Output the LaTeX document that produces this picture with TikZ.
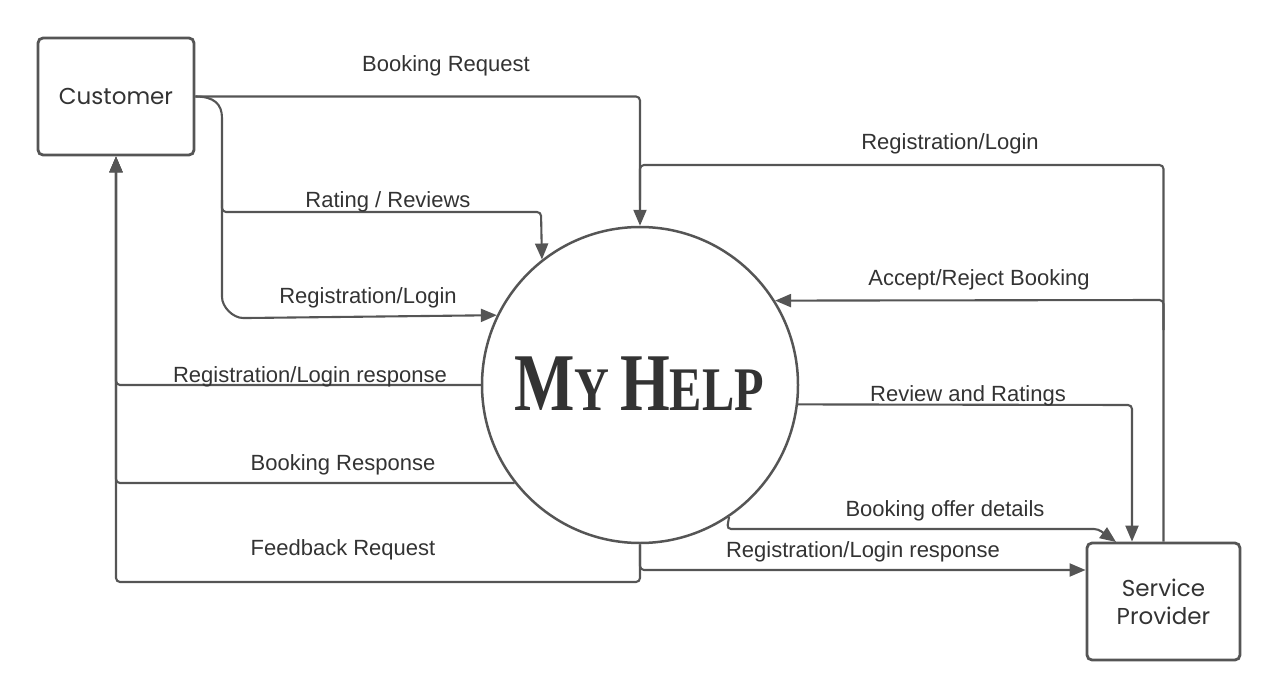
\documentclass[tikz,border=0pt]{standalone}
\usepackage{fontspec}
\usepackage{graphicx}
\setmainfont{Liberation Sans}
\newfontfamily\boxfont{Poppins}
\newfontfamily\titlefont{Liberation Serif}
\usetikzlibrary{arrows.meta}
\definecolor{ln}{HTML}{555555}
\definecolor{tx}{HTML}{333333}
\begin{document}
\begin{tikzpicture}[x=1pt,y=-1pt,
  ent/.style={draw=ln, line width=2.8pt, rounded corners=5pt, text=tx, font=\boxfont\fontsize{23}{28}\selectfont, align=center, inner sep=0pt},
  flow/.style={draw=ln, line width=2.1pt, rounded corners=4pt, -{Triangle[length=16pt,width=13pt]}},
  link/.style={draw=ln, line width=2.1pt, rounded corners=4pt},
  lbl/.style={text=tx, font=\fontsize{22}{26}\selectfont, inner sep=0pt}]
\useasboundingbox (0,0) rectangle (1280,698);
% entities
\node[ent, minimum width=156pt, minimum height=117pt] (cust) at (116,96.5) {Customer};
\node[ent, minimum width=153pt, minimum height=117pt] (sp) at (1163.5,601.5) {Service\\Provider};
\node[draw=ln, line width=2.5pt, circle, minimum size=316pt, inner sep=0pt] (my) at (640,385) {};
\node[text=tx, font=\titlefont\bfseries, inner sep=0pt] (title) at (639,384)
  {\scalebox{0.78}[1]{\fontsize{82}{82}\selectfont M\fontsize{62}{62}\selectfont Y\hspace{0.22em}\fontsize{82}{82}\selectfont H\fontsize{62}{62}\selectfont ELP}};
% helper coordinates
\coordinate (r5) at (640,570);
\coordinate (rr) at (1132,405);
% customer -> system
\draw[flow] (cust.east) -- (640,96.5) -- (my.north);
\draw[flow] (cust.east) .. controls (214,96.5) and (222,104) .. (222,122) -- (222,212) -- (541,212) -- (my.128.8);
\draw[flow] (222,200) -- (222,293) .. controls (222,307) and (233,318) .. (247,318) -- (my.154.9);
% system -> customer
\draw[flow] (my.west) -| (cust.south);
\draw[flow] (my.218.3) -| (cust.south);
\draw[flow] (my.south) -- (640,582) -| (cust.south);
% provider -> system
\draw[link] (sp.north) -- (1163.5,165) -- (640,165) -- (640,200);
\draw[flow] (1163.5,330) -- (1163.5,300) -- (my.32.5);
% system -> provider
\draw[flow] (my.-7.3) -- (rr) -- (rr |- sp.north);
\draw[flow] (my.-56.6) -- (727,529) -- (1098,529) -- (1116,542);
\draw[flow] (my.south) |- (sp.west |- r5);
% labels
\node[lbl] (l1) at (446,66) {Booking Request};
\node[lbl] (l2) at (950,144) {Registration/Login};
\node[lbl] (l3) at (388,202) {Rating / Reviews};
\node[lbl] (l4) at (979,280) {Accept/Reject Booking};
\node[lbl] (l5) at (368,298) {Registration/Login};
\node[lbl] (l6) at (310,377) {Registration/Login response};
\node[lbl] (l7) at (968,396) {Review and Ratings};
\node[lbl] (l8) at (343,465) {Booking Response};
\node[lbl] (l9) at (945,511) {Booking offer details};
\node[lbl] (l10) at (343,550) {Feedback Request};
\node[lbl] (l11) at (863,552) {Registration/Login response};
\end{tikzpicture}
\end{document}
